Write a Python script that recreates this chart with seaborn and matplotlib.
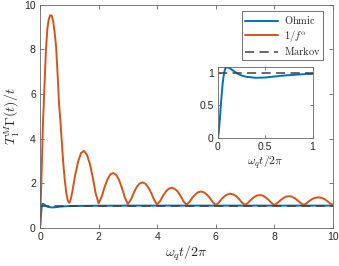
import numpy as np
import pandas as pd
import matplotlib
matplotlib.use("Agg")
import matplotlib.pyplot as plt
import seaborn as sns

# ---- data ----
t_f = [0.0, 0.05, 0.1, 0.15, 0.2, 0.25, 0.3, 0.35, 0.4, 0.45, 0.5, 0.55, 0.6, 0.65, 0.7, 0.75, 0.8, 0.85, 0.9, 0.95,
       1.0, 1.05, 1.1, 1.2, 1.3, 1.4, 1.5, 1.6, 1.7, 1.8, 1.9,
       2.0, 2.1, 2.2, 2.3, 2.4, 2.5, 2.6, 2.7, 2.8, 2.9,
       3.0, 3.1, 3.2, 3.3, 3.4, 3.5, 3.6, 3.7, 3.8, 3.9,
       4.0, 4.1, 4.2, 4.3, 4.4, 4.5, 4.6, 4.7, 4.8, 4.9,
       5.0, 5.1, 5.2, 5.3, 5.4, 5.5, 5.6, 5.7, 5.8, 5.9,
       6.0, 6.1, 6.2, 6.3, 6.4, 6.5, 6.6, 6.7, 6.8, 6.9,
       7.0, 7.1, 7.2, 7.3, 7.4, 7.5, 7.6, 7.7, 7.8, 7.9,
       8.0, 8.1, 8.2, 8.3, 8.4, 8.5, 8.6, 8.7, 8.8, 8.9,
       9.0, 9.1, 9.2, 9.3, 9.4, 9.5, 9.6, 9.7, 9.8, 9.9, 10.0]
v_f = [0.0, 2.3, 4.6, 6.3, 7.9, 8.9, 9.35, 9.52, 9.5, 9.25, 8.75, 8.1, 6.9, 5.55, 4.72, 3.73, 2.8, 2.1, 1.55, 1.22,
       1.12, 1.28, 1.60, 2.35, 2.96, 3.35, 3.45, 3.28, 2.88, 2.28, 1.55,
       1.10, 1.37, 1.81, 2.17, 2.40, 2.46, 2.38, 2.14, 1.78, 1.35,
       1.07, 1.26, 1.57, 1.83, 1.99, 2.04, 1.98, 1.81, 1.56, 1.25,
       1.05, 1.20, 1.44, 1.64, 1.76, 1.80, 1.75, 1.63, 1.43, 1.19,
       1.04, 1.16, 1.35, 1.50, 1.60, 1.63, 1.59, 1.49, 1.34, 1.15,
       1.03, 1.13, 1.29, 1.42, 1.50, 1.53, 1.50, 1.42, 1.29, 1.13,
       1.03, 1.12, 1.26, 1.37, 1.45, 1.47, 1.45, 1.37, 1.26, 1.12,
       1.03, 1.11, 1.23, 1.33, 1.40, 1.42, 1.40, 1.33, 1.23, 1.11,
       1.03, 1.10, 1.21, 1.30, 1.35, 1.37, 1.35, 1.30, 1.21, 1.10, 1.03]

t_o = [0.0, 0.01, 0.02, 0.03, 0.04, 0.05, 0.06, 0.07, 0.08, 0.1, 0.12, 0.15, 0.2, 0.25, 0.3, 0.4, 0.5, 0.6, 0.7,
       0.8, 0.9, 1.0, 1.2, 1.5, 2.0, 3.0, 4.0, 6.0, 8.0, 10.0]
v_o = [0.0, 0.12, 0.3, 0.5, 0.68, 0.84, 0.95, 1.03, 1.07, 1.08, 1.07, 1.04, 0.99, 0.955, 0.935, 0.92, 0.925, 0.94,
       0.955, 0.965, 0.975, 0.98, 0.985, 0.99, 0.995, 1.0, 1.0, 1.0, 1.0, 1.0]

t_m = [0.0, 10.0]
v_m = [1.0, 1.0]

ohmic = pd.DataFrame({"t": t_o, "v": v_o})
onef = pd.DataFrame({"t": t_f, "v": v_f})
markov = pd.DataFrame({"t": t_m, "v": v_m})

blue = "#0072BD"
orange = "#D95319"
gray = "#404040"

sns.set_style("ticks")
plt.rcParams["font.family"] = ["Liberation Sans", "DejaVu Sans"]
plt.rcParams["mathtext.fontset"] = "cm"

fig = plt.figure(figsize=(3.39, 2.66), dpi=100)
ax = fig.add_axes([0.118, 0.143, 0.864, 0.840])

sns.lineplot(data=ohmic, x="t", y="v", ax=ax, color=blue, lw=1.4, label=r"$\mathrm{Ohmic}$")
sns.lineplot(data=onef, x="t", y="v", ax=ax, color=orange, lw=1.4, label=r"$1/f^\alpha$")
sns.lineplot(data=markov, x="t", y="v", ax=ax, color=gray, lw=1.1, ls=(0, (6, 3.5)), label=r"$\mathrm{Markov}$")

ax.set_xlim(0, 10)
ax.set_ylim(0, 10)
ax.set_xticks([0, 2, 4, 6, 8, 10])
ax.set_yticks([0, 2, 4, 6, 8, 10])
ax.set_xlabel(r"$\omega_q t/2\pi$", fontsize=10, labelpad=1)
ax.set_ylabel(r"$T_1^M\Gamma(t)/t$", fontsize=10, labelpad=2)

for s in ax.spines.values():
    s.set_visible(True)
    s.set_color("#666666")
    s.set_linewidth(0.6)
ax.tick_params(direction="in", length=3, width=0.6, color="#666666", labelsize=7.5,
               top=True, right=True, pad=3)

leg = ax.legend(loc="upper right", bbox_to_anchor=(0.975, 0.98), fontsize=7.5, frameon=True, fancybox=False,
                handlelength=3.2, borderpad=0.3, labelspacing=0.15, handletextpad=0.5, borderaxespad=0.2)
leg.get_frame().set_edgecolor("#333333")
leg.get_frame().set_linewidth(0.6)

# inset
axi = fig.add_axes([0.643, 0.480, 0.279, 0.267])
sns.lineplot(data=ohmic, x="t", y="v", ax=axi, color=blue, lw=1.4)
sns.lineplot(data=markov, x="t", y="v", ax=axi, color=gray, lw=1.1, ls=(0, (6, 3.5)))
axi.set_xlim(0, 1)
axi.set_ylim(0, 1.08)
axi.set_xticks([0, 0.5, 1])
axi.set_yticks([0, 0.5, 1])
axi.set_xticklabels(["0", "0.5", "1"])
axi.set_yticklabels(["0", "0.5", "1"])
axi.set_xlabel(r"$\omega_q t/2\pi$", fontsize=8.5, labelpad=1)
axi.set_ylabel("")
for s in axi.spines.values():
    s.set_visible(True)
    s.set_color("#666666")
    s.set_linewidth(0.6)
axi.tick_params(direction="in", length=2.5, width=0.6, color="#666666", labelsize=7.5,
                top=True, right=True, pad=3)

fig.savefig("out.png", dpi=100)
